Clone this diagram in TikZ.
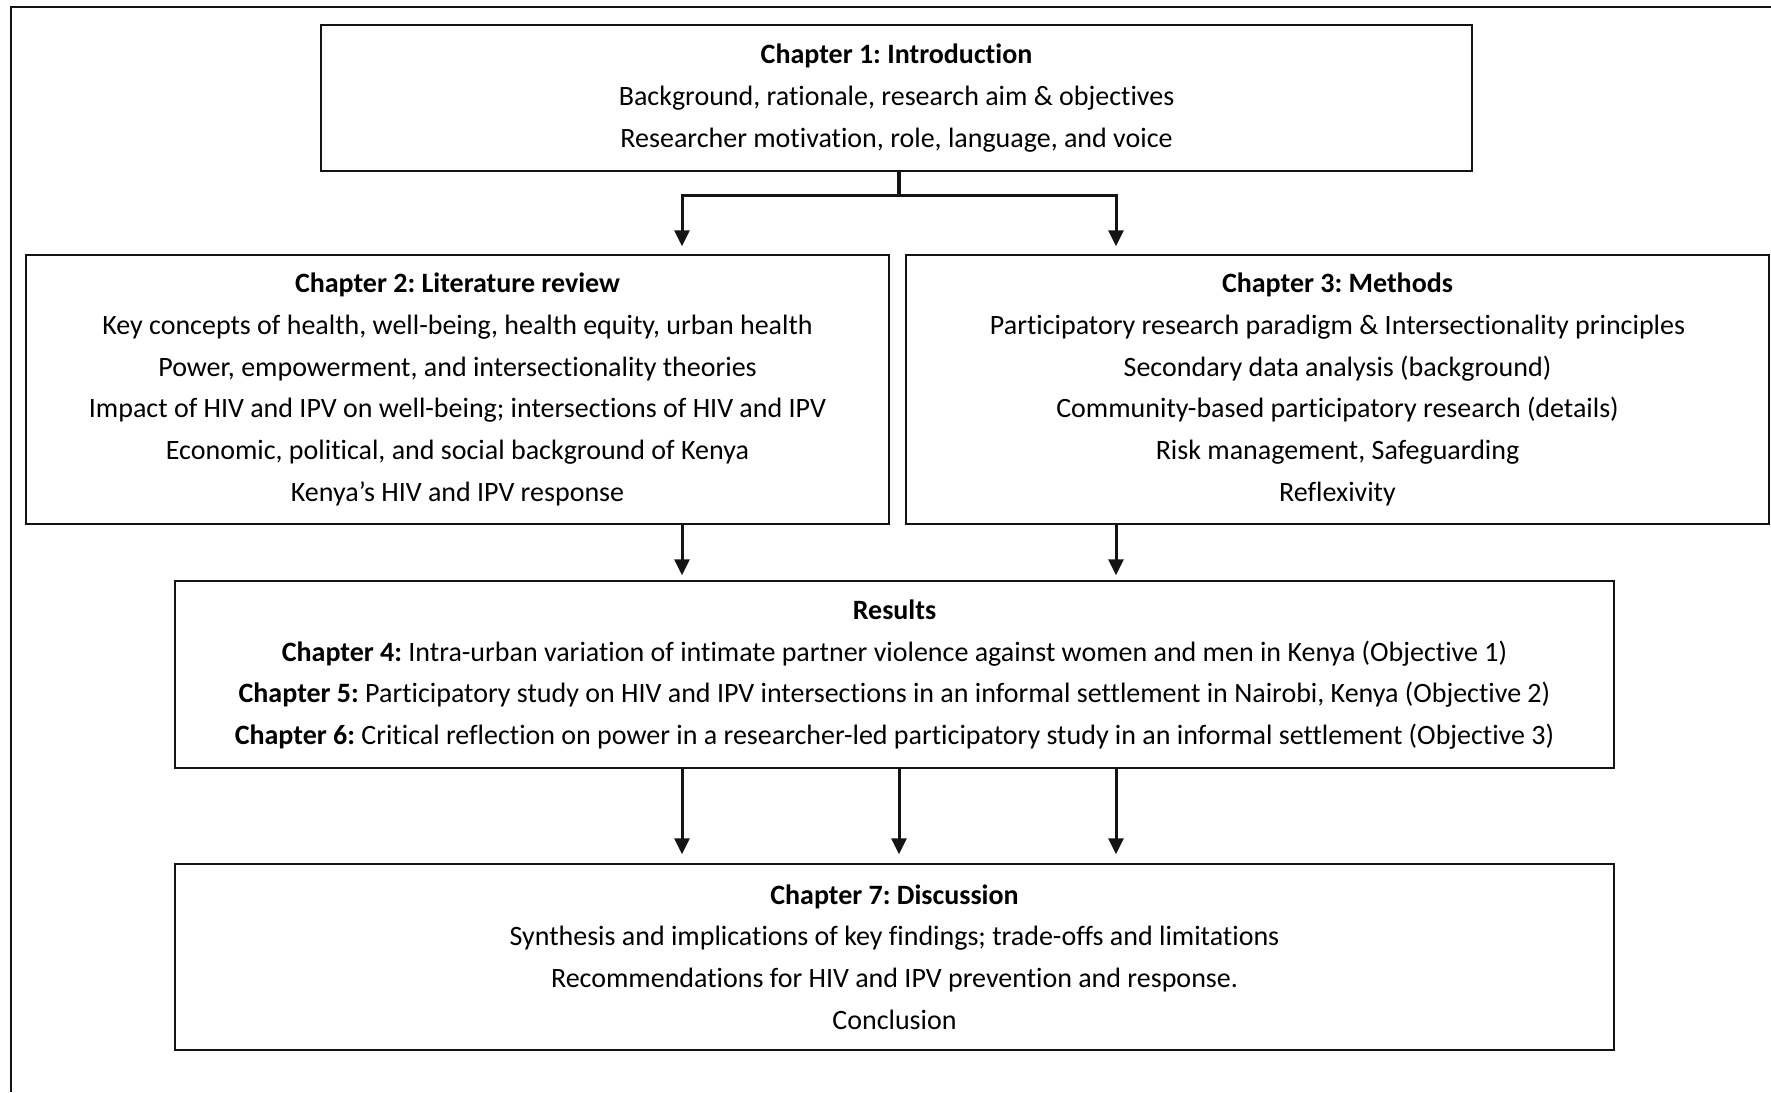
\documentclass[tikz,border=0pt]{standalone}
\usepackage{fontspec}
\setmainfont{Carlito}[Ligatures=NoCommon]
\usepackage{tikz}
\usetikzlibrary{arrows.meta,positioning,calc}
\definecolor{ink}{RGB}{20,20,20}
\frenchspacing
\tikzset{
  chap/.style={draw=ink,line width=0.7pt,align=center,inner sep=0pt,
    font=\fontsize{14}{20.9}\selectfont},
  arr/.style={-{Triangle[length=8pt,width=7.5pt]},line width=1.5pt,ink},
}

\begin{document}
\begin{tikzpicture}[x=0.5pt,y=-0.5pt]
  \useasboundingbox (0,0) rectangle (1771,1092);
  % outer frame, cut at right and bottom
  \draw[line width=0.8pt,ink] (1771,7) -- (11,7) -- (11,1092);

  \node[chap,minimum width=575.5pt,minimum height=73pt] (ch1) at (896.5,98)
    {\textbf{Chapter 1: Introduction}\\
     Background, rationale, research aim \& objectives\\
     Researcher motivation, role, language, and voice};
  \node[chap,minimum width=431.5pt,minimum height=134.5pt] (ch2) at (457.5,389.5)
    {\textbf{Chapter 2: Literature review}\\
     Key concepts of health, well-being, health equity, urban health\\
     Power, empowerment, and intersectionality theories\\
     Impact of HIV and IPV on well-being; intersections of HIV and IPV\\
     Economic, political, and social background of Kenya\\
     Kenya’s HIV and IPV response};
  \node[chap,minimum width=431.5pt,minimum height=134.5pt] (ch3) at (1337.5,389.5)
    {\textbf{Chapter 3: Methods}\\
     Participatory research paradigm \& Intersectionality principles\\
     Secondary data analysis (background)\\
     Community-based participatory research (details)\\
     Risk management, Safeguarding\\
     Reflexivity};
  \node[chap,minimum width=719.5pt,minimum height=93.5pt] (res) at (894.5,674.5)
    {\textbf{Results}\\
     \textbf{Chapter 4:} Intra-urban variation of intimate partner violence against women and men in Kenya (Objective 1)\\
     \textbf{Chapter 5:} Participatory study on HIV and IPV intersections in an informal settlement in Nairobi, Kenya (Objective 2)\\
     \textbf{Chapter 6:} Critical reflection on power in a researcher-led participatory study in an informal settlement (Objective 3)};
  \node[chap,minimum width=719.5pt,minimum height=93pt] (ch7) at (894.5,957)
    {\textbf{Chapter 7: Discussion}\\
     Synthesis and implications of key findings; trade-offs and limitations\\
     Recommendations for HIV and IPV prevention and response.\\
     Conclusion};

  % arrow columns
  \coordinate (xa) at (682,0);
  \coordinate (xb) at (899,0);
  \coordinate (xc) at (1116,0);
  \coordinate (junc) at (899,195);

  \draw[line width=2pt,ink] (ch1.south -| junc) -- (junc);
  \draw[arr,shorten >=4pt] (junc) -| (xa |- ch2.north);
  \draw[arr,shorten >=4pt] (junc) -| (xc |- ch3.north);
  \draw[arr,shorten >=2.5pt] (xa |- ch2.south) -- (xa |- res.north);
  \draw[arr,shorten >=2.5pt] (xc |- ch3.south) -- (xc |- res.north);
  \foreach \c in {xa,xb,xc}
    \draw[arr,shorten >=4.5pt] (\c |- res.south) -- (\c |- ch7.north);
\end{tikzpicture}
\end{document}
